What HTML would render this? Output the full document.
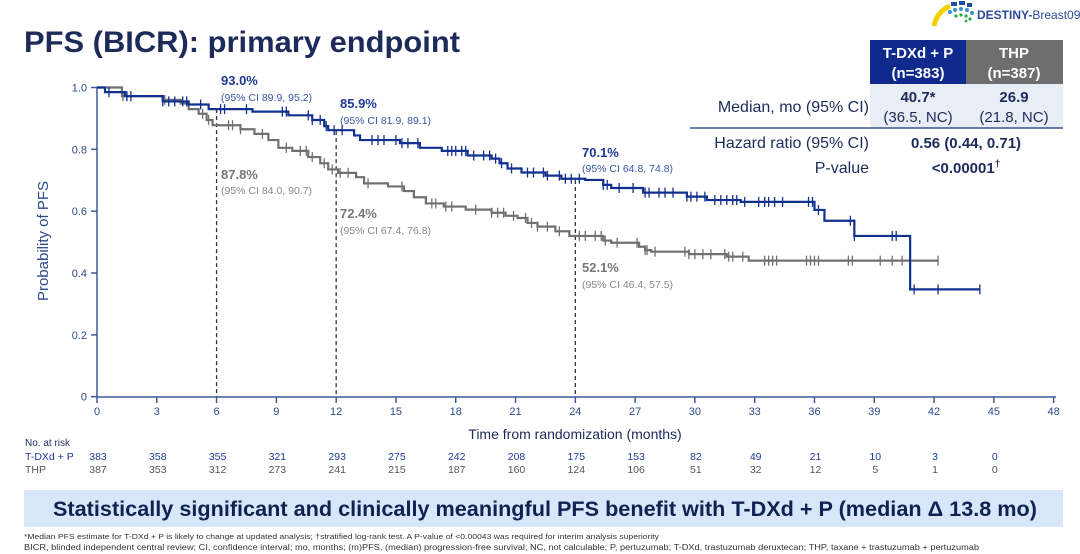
<!DOCTYPE html>
<html><head><meta charset="utf-8">
<style>
body{margin:0;width:1080px;height:554px;background:#fff;overflow:hidden;font-family:"Liberation Sans",Arial,sans-serif;position:relative}
svg{position:absolute;left:0;top:0}
</style></head><body>
<svg id="s" width="1080" height="554" viewBox="0 0 1080 554" font-family="Liberation Sans, Arial, sans-serif">
<text x="24" y="52" font-size="30" font-weight="bold" fill="#1c2b5a" textLength="436" lengthAdjust="spacingAndGlyphs">PFS (BICR): primary endpoint</text>
<path d="M934 26 A26 26 0 0 1 950 6" stroke="#f2d000" stroke-width="5" fill="none"/>
<g fill="#1f4fa0"><rect x="951" y="2" width="6" height="4"/><rect x="959" y="1" width="6" height="4"/><rect x="967" y="3" width="5" height="4"/></g>
<g fill="#3a8fd0"><circle cx="950" cy="12" r="2"/><circle cx="955" cy="10" r="2"/><circle cx="961" cy="9" r="2"/><circle cx="967" cy="10" r="2"/><circle cx="972" cy="13" r="2"/></g>
<g fill="#27a844"><circle cx="956" cy="16" r="1.6"/><circle cx="961" cy="15" r="1.6"/><circle cx="966" cy="16" r="1.6"/><circle cx="970" cy="19" r="1.6"/><circle cx="966" cy="21" r="1.4"/></g>
<text x="977" y="19" font-size="12" font-weight="bold" fill="#2a4a9a">DESTINY-<tspan font-weight="normal">Breast09</tspan></text>
<rect x="870" y="40" width="96" height="44" fill="#0f2a8c"/>
<rect x="966" y="40" width="97" height="44" fill="#6e6e6e"/>
<rect x="870" y="84" width="193" height="44" fill="#e9edf5"/>
<line x1="690" y1="128" x2="1063" y2="128" stroke="#3a5590" stroke-width="1.5"/>
<g font-size="15" font-weight="bold" fill="#fff" text-anchor="middle">
<text x="918" y="58">T-DXd + P</text><text x="918" y="78">(n=383)</text>
<text x="1014" y="58">THP</text><text x="1014" y="78">(n=387)</text></g>
<g font-size="15" text-anchor="middle" fill="#1c2b5a">
<text x="918" y="102" font-weight="bold">40.7*</text><text x="918" y="122">(36.5, NC)</text>
<text x="1014" y="102" font-weight="bold">26.9</text><text x="1014" y="122">(21.8, NC)</text>
<text x="966" y="148" font-weight="bold">0.56 (0.44, 0.71)</text>
<text x="966" y="173" font-weight="bold">&lt;0.00001<tspan font-size="10" dy="-6">†</tspan></text></g>
<g font-size="16" text-anchor="end" fill="#1c2b5a">
<text x="869" y="112">Median, mo (95% CI)</text>
<text x="869" y="148">Hazard ratio (95% CI)</text>
<text x="869" y="173">P-value</text></g>
<g id="ax" stroke="#3a5a9a" stroke-width="1.5" fill="none"></g>
<text transform="translate(48 241) rotate(-90)" font-size="15" text-anchor="middle" fill="#2a4a8a">Probability of PFS</text>
<text x="575" y="439" font-size="14" text-anchor="middle" fill="#1c2b5a">Time from randomization (months)</text>
<g font-size="13" font-weight="bold">
<text x="221" y="85" fill="#1f3a9a">93.0%</text><text x="340" y="108" fill="#1f3a9a">85.9%</text>
<text x="221" y="179" fill="#777">87.8%</text><text x="340" y="218" fill="#777">72.4%</text>
<text x="582" y="157" fill="#1f3a9a">70.1%</text><text x="582" y="272" fill="#777">52.1%</text></g>
<g font-size="10.5">
<text x="221" y="101" fill="#3a55a8">(95% CI 89.9, 95.2)</text><text x="340" y="124" fill="#3a55a8">(95% CI 81.9, 89.1)</text>
<text x="221" y="194" fill="#888">(95% CI 84.0, 90.7)</text><text x="340" y="234" fill="#888">(95% CI 67.4, 76.8)</text>
<text x="582" y="172" fill="#3a55a8">(95% CI 64.8, 74.8)</text><text x="582" y="288" fill="#888">(95% CI 46.4, 57.5)</text></g>
<g id="risk" font-size="10.5" text-anchor="middle"></g>
<text x="25" y="446" font-size="10" fill="#1c2b5a">No. at risk</text>
<text x="25" y="460" font-size="10.5" fill="#1f3a9a">T-DXd + P</text>
<text x="25" y="473" font-size="10.5" fill="#555">THP</text>
<rect x="24" y="490" width="1039" height="37" fill="#d7e7f9"/>
<text x="545" y="516" font-size="21" font-weight="bold" text-anchor="middle" fill="#0f2250" textLength="984" lengthAdjust="spacingAndGlyphs">Statistically significant and clinically meaningful PFS benefit with T-DXd + P (median Δ 13.8 mo)</text>
<text x="24" y="539" font-size="7.5" fill="#333" textLength="635" lengthAdjust="spacingAndGlyphs">*Median PFS estimate for T-DXd + P is likely to change at updated analysis; †stratified log-rank test. A P-value of &lt;0.00043 was required for interim analysis superiority</text>
<text x="24" y="550" font-size="8" fill="#333" textLength="955" lengthAdjust="spacingAndGlyphs">BICR, blinded independent central review; CI, confidence interval; mo, months; (m)PFS, (median) progression-free survival; NC, not calculable; P, pertuzumab; T-DXd, trastuzumab deruxtecan; THP, taxane + trastuzumab + pertuzumab</text>
</svg>
<script>
var NS="http://www.w3.org/2000/svg",s=document.getElementById('s');
function X(t){return 97+19.93*t}function Y(p){return 396.7-309.2*p}
function el(n,a,par){var e=document.createElementNS(NS,n);for(var k in a)e.setAttribute(k,a[k]);(par||s).appendChild(e);return e}
var ax=document.getElementById('ax');
el('line',{x1:97,y1:88,x2:97,y2:397},ax);el('line',{x1:97,y1:397,x2:1056,y2:397},ax);
for(var i=0;i<=5;i++){var y=Y(i*0.2);el('line',{x1:91,y1:y,x2:97,y2:y},ax);
var t=el('text',{x:87,y:y+4,'font-size':11,'text-anchor':'end',fill:'#2a4a8a'});t.textContent=i==0?'0':(i*0.2).toFixed(1);}
for(var m=0;m<=48;m+=3){var x=X(m);el('line',{x1:x,y1:397,x2:x,y2:403},ax);
var t=el('text',{x:x,y:415,'font-size':11,'text-anchor':'middle',fill:'#2a4a8a'});t.textContent=m;}
[[6,0.93],[12,0.859],[24,0.701]].forEach(function(d){el('line',{x1:X(d[0]),y1:Y(d[1]),x2:X(d[0]),y2:397,stroke:'#333','stroke-width':1.3,'stroke-dasharray':'4,3'})});
var blue=[[0,1],[0.4,0.985],[1.4,0.972],[3.3,0.955],[4.6,0.945],[5.6,0.93],[7.8,0.922],[9.6,0.91],[10.8,0.895],[11.4,0.875],[11.6,0.862],[12.9,0.845],[13.2,0.83],[15.2,0.82],[16.2,0.805],[17.3,0.795],[18.6,0.78],[19.8,0.77],[20.2,0.755],[20.6,0.738],[21.3,0.725],[22.5,0.715],[23.3,0.705],[24.5,0.701],[25.4,0.685],[25.8,0.675],[27.4,0.66],[29.6,0.647],[30.6,0.636],[32.3,0.63],[36.0,0.604],[36.5,0.569],[38.0,0.52],[40.8,0.347],[44.3,0.347]];
var gray=[[0,1],[1.25,0.972],[3.3,0.96],[4.2,0.948],[4.6,0.93],[5.1,0.915],[5.5,0.895],[5.8,0.878],[7.2,0.865],[7.9,0.85],[8.6,0.83],[9.1,0.805],[9.8,0.795],[10.6,0.775],[11.2,0.755],[11.6,0.735],[12.1,0.724],[13.0,0.71],[13.4,0.69],[14.6,0.68],[15.4,0.665],[15.9,0.645],[16.5,0.625],[17.4,0.615],[18.5,0.605],[19.8,0.595],[20.5,0.585],[21.1,0.578],[21.6,0.562],[22.1,0.55],[23.0,0.535],[23.7,0.52],[25.4,0.505],[25.8,0.498],[27.2,0.485],[27.5,0.474],[27.8,0.469],[29.7,0.461],[31.6,0.453],[32.7,0.44],[42.2,0.44]];
var bc=[0.6,1.5,1.7,3.3,3.6,3.9,4.3,4.5,5.2,6.2,6.4,7.5,9.3,9.5,10.6,10.8,11.2,11.5,11.9,12.3,13.8,14.1,14.4,15.0,15.3,15.6,16.1,17.6,17.8,18.0,18.3,18.5,18.9,19.4,19.7,20.0,20.3,20.8,21.6,21.9,22.4,22.6,23.2,23.5,23.8,24.2,25.4,25.6,26.2,26.9,27.5,27.7,28.2,28.5,28.9,29.6,29.8,30.1,30.5,31.0,31.3,31.6,31.9,32.1,32.5,33.2,33.5,33.7,34.0,34.4,35.7,35.9,36.2,37.8,38.0,39.9,40.1,41.0,42.2,44.3];
var gc=[1.3,1.5,3.4,5.3,5.6,6.6,6.8,7.2,8.3,9.5,10.2,10.5,10.8,11.4,11.8,12.2,12.6,13.6,15.3,16.8,17.0,17.5,17.8,19.0,19.8,20.1,20.4,20.9,21.5,21.8,22.1,22.6,23.2,24.2,24.5,25.0,25.3,25.5,26.1,27.1,27.5,27.6,28.0,29.5,29.7,30.0,30.4,30.8,31.5,31.7,31.9,32.4,33.5,33.7,33.9,34.1,35.6,35.8,36.0,36.2,37.7,37.9,39.3,39.9,40.4,42.2];
function val(c,t){var v=c[0][1];for(var i=0;i<c.length;i++){if(c[i][0]<=t)v=c[i][1];}return v}
function draw(c,ticks,col){var d='M'+X(c[0][0])+' '+Y(c[0][1]);for(var i=1;i<c.length;i++){d+=' H'+X(c[i][0])+' V'+Y(c[i][1]);}
el('path',{d:d,fill:'none',stroke:col,'stroke-width':2.2});
ticks.forEach(function(t){var y=Y(val(c,t));el('line',{x1:X(t),y1:y-5,x2:X(t),y2:y+5,stroke:col,'stroke-width':1.3})});}
draw(gray,gc,'#707070');draw(blue,bc,'#12308f');
var r1=[383,358,355,321,293,275,242,208,175,153,82,49,21,10,3,0],r2=[387,353,312,273,241,215,187,160,124,106,51,32,12,5,1,0];
var rk=document.getElementById('risk');
r1.forEach(function(v,i){var t=el('text',{x:X(i*3)+1,y:460,fill:'#1f3a9a'},rk);t.textContent=v;
var u=el('text',{x:X(i*3)+1,y:473,fill:'#555'},rk);u.textContent=r2[i];});
</script>
</body></html>
